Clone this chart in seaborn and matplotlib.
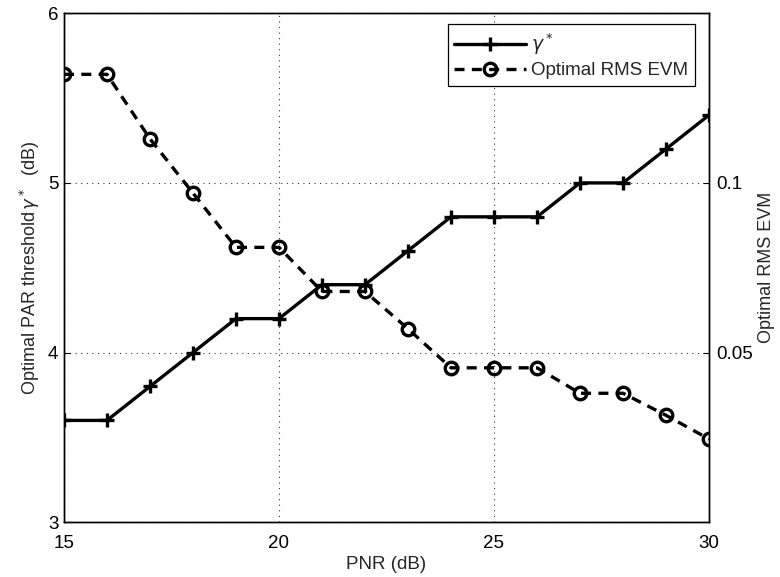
import matplotlib
matplotlib.use("Agg")
import matplotlib.pyplot as plt
import seaborn as sns
import pandas as pd
from matplotlib.lines import Line2D

pnr = [15, 16, 17, 18, 19, 20, 21, 22, 23, 24, 25, 26, 27, 28, 29, 30]
gamma_star = [3.6, 3.6, 3.8, 4.0, 4.2, 4.2, 4.4, 4.4, 4.6, 4.8, 4.8, 4.8, 5.0, 5.0, 5.2, 5.4]
rms_evm = [0.132, 0.132, 0.113, 0.097, 0.081, 0.081, 0.068, 0.068, 0.057, 0.0455,
           0.0455, 0.0455, 0.038, 0.038, 0.0315, 0.0245]
x_ticks = [15, 20, 25, 30]
y_ticks = [3, 4, 5, 6]
y2_ticks = [0.05, 0.1]

sns.set_theme(style="white")
plt.rcParams['font.family'] = ['Liberation Sans', 'DejaVu Sans']
plt.rcParams['mathtext.fontset'] = 'dejavusans'

df = pd.DataFrame({"pnr": pnr, "gamma": gamma_star, "evm": rms_evm})

fig = plt.figure(figsize=(7.8, 5.77), dpi=100)
ax = fig.add_axes([0.082, 0.095, 0.827, 0.882])

sns.lineplot(data=df, x="pnr", y="gamma", ax=ax, color="black", linewidth=2.4,
             marker="+", markersize=10, markeredgewidth=2.4, markeredgecolor="black")
ax.set_xlim(15, 30)
ax.set_ylim(3, 6)
ax.set_xticks(x_ticks)
ax.set_yticks(y_ticks)
ax.set_xlabel("PNR (dB)", fontsize=13.5, labelpad=3)
ax.set_ylabel(r"Optimal PAR threshold$\,\gamma^*$  (dB)", fontsize=13, labelpad=4)
ax.grid(True, linestyle=(0, (1, 4)), color="black", linewidth=0.8, alpha=0.8)
ax.tick_params(direction="in", labelsize=13.5, length=4, width=0.8, colors="black")
ax.tick_params(axis="x", pad=9)
ax.tick_params(axis="y", pad=4)

ax2 = ax.twinx()
sns.lineplot(data=df, x="pnr", y="evm", ax=ax2, color="black", linewidth=2.4,
             linestyle=(0, (3, 2.2)), marker="o", markersize=9, markeredgewidth=2.4,
             markerfacecolor="none", markeredgecolor="black")
ax2.set_ylim(0, 0.15)
ax2.set_yticks(y2_ticks)
ax2.set_yticklabels(["0.05", "0.1"])
ax2.set_ylabel("Optimal RMS EVM", fontsize=13, labelpad=4)
ax2.tick_params(direction="in", labelsize=13.5, length=4, width=0.8, colors="black", pad=5)
ax2.grid(False)

for a in (ax, ax2):
    for s in a.spines.values():
        s.set_color("black")
        s.set_linewidth(1.0)

handles = [
    Line2D([], [], color="black", linewidth=2.4, marker="+", markersize=10, markeredgewidth=2.4),
    Line2D([], [], color="black", linewidth=2.4, linestyle=(0, (3, 2.2)), marker="o",
           markersize=9, markeredgewidth=2.4, markerfacecolor="none"),
]
leg = ax2.legend(handles, [r"$\gamma^*$", "Optimal RMS EVM"], loc="upper right",
                 bbox_to_anchor=(0.978, 0.978), borderaxespad=0, fontsize=13.5, frameon=True,
                 fancybox=False, edgecolor="black", framealpha=1, handlelength=3.8,
                 borderpad=0.35, labelspacing=0.3, handletextpad=0.3)
leg.get_frame().set_linewidth(0.9)

fig.savefig("out.png", dpi=100)
